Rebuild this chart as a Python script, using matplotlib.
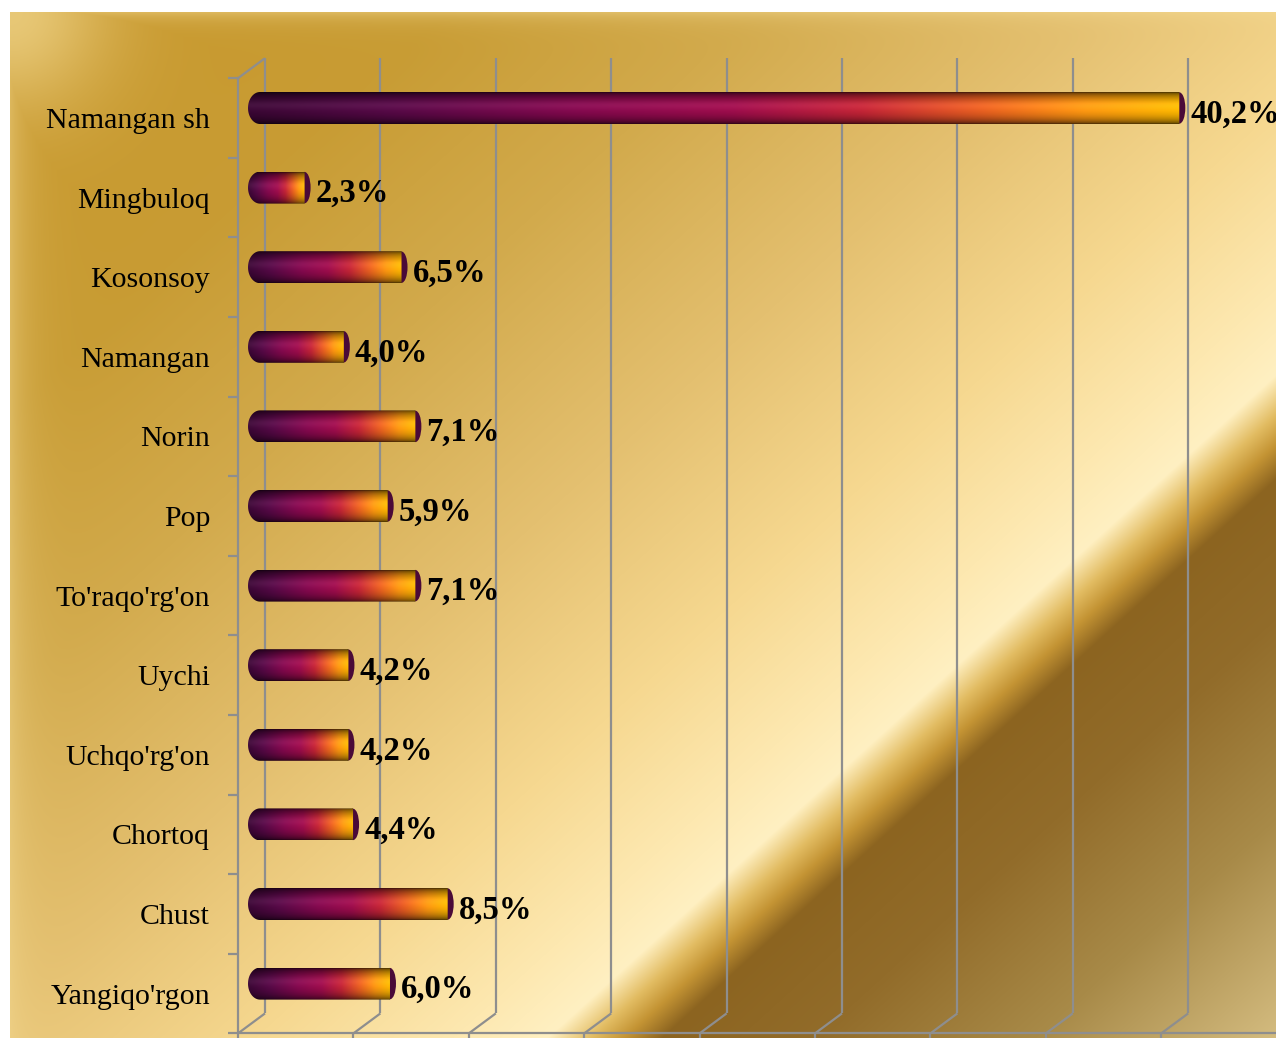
import matplotlib
matplotlib.use('Agg')
import matplotlib.pyplot as plt
import numpy as np
from matplotlib.colors import LinearSegmentedColormap, to_rgb
from matplotlib.path import Path
from matplotlib.patches import PathPatch, Ellipse

plt.rcParams['font.family'] = ['Liberation Serif', 'DejaVu Serif']

categories = ["Namangan sh", "Mingbuloq", "Kosonsoy", "Namangan", "Norin", "Pop",
              "To'raqo'rg'on", "Uychi", "Uchqo'rg'on", "Chortoq", "Chust", "Yangiqo'rgon"]
values = [40.2, 2.3, 6.5, 4.0, 7.1, 5.9, 7.1, 4.2, 4.2, 4.4, 8.5, 6.0]
value_labels = [f"{v:.1f}%".replace('.', ',') for v in values]
x_ticks = [0, 5, 10, 15, 20, 25, 30, 35, 40]

# layout (pixels)
W, H = 1276, 1038
PX0, PXU = 251.5, 23.08     # x pixel of 0 and pixels per percent (mid depth)
PY0, PYU = 108.0, 79.6      # y pixel of first row and pixels per row
DEPTH_X, DEPTH_Y = 13.5, 10.0
BAR_PX = 32

fig = plt.figure(figsize=(W / 100, H / 100), dpi=100)

# golden background
Y, X = np.mgrid[0:H, 0:W]
u = 0.91 * X + Y
stop_u = [0, 420, 700, 1010, 1270, 1450, 1535, 1575, 1605, 1640, 1780, 1980, 2200]
stop_c = ['#c8982c', '#c89c34', '#d2aa4c', '#e4c070', '#f6d890', '#fde8b0', '#fff0c2',
          '#e2bc62', '#c49434', '#8c6420', '#926c2a', '#a88a48', '#d4bc80']
stop_rgb = np.array([to_rgb(c) for c in stop_c])
bg_img = np.stack([np.interp(u, stop_u, stop_rgb[:, k]) for k in range(3)], axis=-1)
glow = np.maximum(np.exp(-(X - 10) / 20.0), np.exp(-(Y - 12) / 9.0)) * 0.45
blob = np.exp(-((X - 10) ** 2 + (Y - 12) ** 2) / (2 * 70.0 ** 2)) * 0.7
w = np.clip(np.maximum(glow, blob), 0, 1)[..., None]
bg_img = bg_img * (1 - w) + np.array(to_rgb('#f5dc96')) * w
bg_img[(X < 10) | (Y < 12)] = 1.0

bg = fig.add_axes([0, 0, 1, 1])
bg.imshow(bg_img, extent=(0, W, H, 0), aspect='auto', interpolation='bilinear')
bg.axis('off')

ax = fig.add_axes([0, 0, 1, 1])
ax.set_facecolor('none')
ax.axis('off')

DX = DEPTH_X / PXU
DY = DEPTH_Y / PYU
n = len(categories)
y_top, y_bot = -0.5, n - 0.5
x_right = (W - PX0) / PXU
grid_kw = dict(color='#8e8e8e', lw=1.6, solid_capstyle='butt', zorder=1)

# back wall grid lines with floor diagonals
for t in x_ticks:
    ax.plot([t + DX, t + DX], [y_top - DY, y_bot - DY], **grid_kw)
    ax.plot([t + DX, t - DX], [y_bot - DY, y_bot + DY], **grid_kw)
    ax.plot([t - DX, t - DX], [y_bot + DY, y_bot + DY + 12 / PYU], **grid_kw)
# left wall edges
ax.plot([-DX, DX], [y_top + DY, y_top - DY], **grid_kw)
ax.plot([-DX, -DX], [y_top + DY, y_bot + DY], **grid_kw)
ax.plot([-DX, x_right + 1], [y_bot + DY, y_bot + DY], **grid_kw)
for k in range(n + 1):
    ax.plot([-DX - 10 / PXU, -DX], [k - 0.5 + DY, k - 0.5 + DY], **grid_kw)

# cylinder bars
bar_cmap = LinearSegmentedColormap.from_list('bar', [
    (0.00, '#3a0634'), (0.15, '#560846'), (0.35, '#84084e'), (0.52, '#9e0c4c'),
    (0.66, '#c42436'), (0.79, '#ea6020'), (0.90, '#ff9810'), (1.00, '#ffb800')])
tt = np.linspace(0, 1, 256)
vv = np.linspace(0, 1, 48)
shade = 0.3 + 0.7 * np.sin(np.pi * vv) ** 0.6
hilite = 0.05 * np.exp(-((vv - 0.4) / 0.14) ** 2)
bar_rgb = bar_cmap(tt)[:, :3][None, :, :] * shade[:, None, None] + hilite[:, None, None]
bar_rgb = np.clip(bar_rgb, 0, 1)

h = BAR_PX / PYU
x0 = -3.5 / PXU
rx = 12 / PXU
th = np.linspace(np.pi / 2, 3 * np.pi / 2, 40)
for i, (val, lab) in enumerate(zip(values, value_labels)):
    cap = Ellipse((val, i), width=2 * 6 / PXU, height=h * 0.98,
                  facecolor='#4a0a38', edgecolor='none', zorder=2.9)
    ax.add_patch(cap)
    left = np.column_stack([x0 + rx + rx * np.cos(th), i - (h / 2) * np.sin(th)])
    verts = np.vstack([left, [[val, i + h / 2], [val, i - h / 2], [x0 + rx, i - h / 2]]])
    clip = PathPatch(Path(verts, closed=True), transform=ax.transData,
                     facecolor='none', edgecolor='none')
    ax.add_patch(clip)
    im = ax.imshow(bar_rgb, extent=(x0, val, i + h / 2, i - h / 2), aspect='auto',
                   interpolation='bilinear', zorder=3)
    im.set_clip_path(clip)
    ax.annotate(lab, (val, i), xytext=(11, -6), textcoords='offset pixels',
                ha='left', va='center', fontsize=23.5, fontweight='bold', color='black',
                zorder=5)

for i, cat in enumerate(categories):
    ax.annotate(cat, (0, i), xytext=(-DEPTH_X - 28, -DEPTH_Y - 3), textcoords='offset pixels',
                ha='right', va='center', fontsize=21.5, color='black', zorder=5)

ax.set_xlim(-PX0 / PXU, x_right)
ax.set_ylim((H - PY0) / PYU, -PY0 / PYU)

fig.savefig('out.png', dpi=100)
plt.close(fig)
